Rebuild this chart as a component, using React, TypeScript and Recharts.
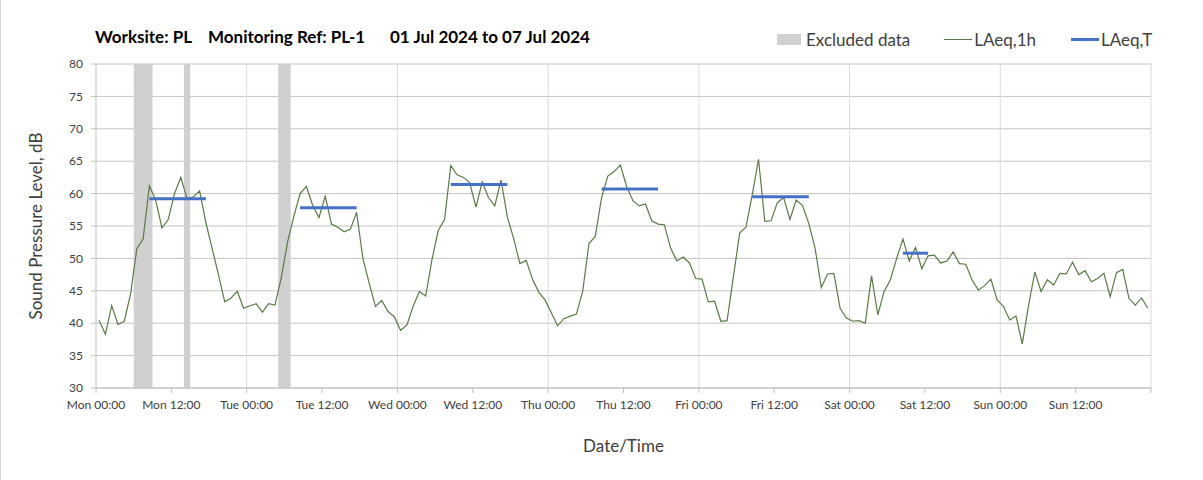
import { ComposedChart, Line, XAxis, YAxis, CartesianGrid, ReferenceArea, ReferenceLine } from "recharts";

// hourly LAeq,1h values, Mon 00:00 .. Sun 23:00 (168 hours)
const LAEQ_1H = [
  40.4, 38.3, 42.7, 39.8, 40.3, 44.5, 51.5, 53.0, 61.2, 59.0, 54.7, 56.0,
  60.0, 62.5, 59.2, 59.5, 60.4, 55.5, 51.5, 47.5, 43.3, 43.9, 44.9, 42.3,
  42.7, 43.0, 41.7, 43.0, 42.8, 47.0, 52.5, 56.5, 60.0, 61.1, 58.2, 56.3,
  59.6, 55.3, 54.8, 54.1, 54.5, 57.1, 50.0, 46.2, 42.6, 43.5, 41.8, 41.0,
  38.9, 39.7, 42.6, 44.9, 44.2, 49.8, 54.3, 56.0, 64.3, 62.9, 62.5, 61.7,
  57.9, 61.8, 59.4, 58.1, 62.1, 56.4, 53.1, 49.2, 49.7, 46.8, 44.8, 43.6,
  41.6, 39.6, 40.7, 41.1, 41.4, 44.9, 52.3, 53.4, 59.3, 62.7, 63.4, 64.4,
  61.1, 58.9, 58.1, 58.4, 55.8, 55.3, 55.2, 51.6, 49.6, 50.2, 49.3, 46.9,
  46.8, 43.3, 43.4, 40.3, 40.4, 47.2, 53.9, 54.8, 59.8, 65.3, 55.7, 55.8,
  58.6, 59.4, 56.0, 59.0, 58.2, 55.4, 51.6, 45.5, 47.6, 47.7, 42.3, 40.8,
  40.3, 40.4, 40.0, 47.3, 41.3, 44.9, 46.7, 50.0, 53.0, 49.6, 51.7, 48.4,
  50.4, 50.5, 49.3, 49.6, 51.0, 49.2, 49.1, 46.7, 45.1, 45.8, 46.8, 43.6,
  42.6, 40.5, 41.1, 36.8, 42.7, 47.9, 44.9, 46.7, 45.9, 47.7, 47.6, 49.4,
  47.5, 48.1, 46.4, 46.9, 47.7, 44.1, 47.8, 48.3, 43.8, 42.8, 43.9, 42.3,
];

// LAeq,T daytime periods (hours from Mon 00:00)
const PERIOD_START = [8.5, 32.5, 56.5, 80.5, 104.5, 128.5];
const PERIOD_END = [17.5, 41.5, 65.5, 89.5, 113.5, 132.5];
const LAEQ_T = [59.2, 57.8, 61.4, 60.7, 59.5, 50.8];

// excluded data windows (hours)
const EXCL_START = [6, 14, 29];
const EXCL_END = [9, 15, 31];

const X_TICKS = [0, 12, 24, 36, 48, 60, 72, 84, 96, 108, 120, 132, 144, 156, 168];
const X_LABELS = [
  "Mon 00:00", "Mon 12:00", "Tue 00:00", "Tue 12:00", "Wed 00:00", "Wed 12:00",
  "Thu 00:00", "Thu 12:00", "Fri 00:00", "Fri 12:00", "Sat 00:00", "Sat 12:00",
  "Sun 00:00", "Sun 12:00", "",
];
const DAY_LINES = [24, 48, 72, 96, 120, 144, 168];
const Y_TICKS = [30, 35, 40, 45, 50, 55, 60, 65, 70, 75, 80];

const hourly = LAEQ_1H.map((v, i) => ({ t: i + 0.5, v }));

const FONT = "Lato, 'Open Sans', sans-serif";
const TXT = "#404040";
const GREEN = "#5a7a45";
const BLUE = "#4472c4";

export default function App() {
  return (
    <div
      style={{
        position: "absolute", left: 0, top: 0, width: 1203, height: 480,
        background: "#fff", fontFamily: FONT, borderLeft: "1px solid #d9d9d9",
        boxSizing: "border-box",
      }}
    >
      <div style={{ position: "absolute", left: 94, top: 26, fontSize: 17, fontWeight: 700, color: "#000", whiteSpace: "pre" }}>
        {"Worksite: PL    Monitoring Ref: PL-1      01 Jul 2024 to 07 Jul 2024"}
      </div>

      {/* legend */}
      <div style={{ position: "absolute", left: 776, top: 29, fontSize: 17, color: TXT, display: "flex", alignItems: "center", whiteSpace: "nowrap" }}>
        <span style={{ width: 24, height: 11, background: "#d0d0d0", display: "inline-block", marginRight: 5 }} />
        <span>Excluded data</span>
        <span style={{ width: 28, height: 1, background: GREEN, display: "inline-block", marginLeft: 34, marginRight: 2 }} />
        <span>LAeq,1h</span>
        <span style={{ width: 28, height: 3, background: BLUE, display: "inline-block", marginLeft: 35, marginRight: 2 }} />
        <span>LAeq,T</span>
      </div>

      <ComposedChart width={1202} height={480} data={hourly} margin={{ top: 64, right: 52, bottom: 62, left: 0 }}>
        <CartesianGrid vertical={false} stroke="#c4c4c4" strokeWidth={1} />
        {DAY_LINES.map((d) => (
          <ReferenceLine key={d} x={d} stroke="#dadada" strokeWidth={1} />
        ))}
        {EXCL_START.map((s, i) => (
          <ReferenceArea key={s} x1={s} x2={EXCL_END[i]} y1={30} y2={80} fill="#d0d0d0" fillOpacity={1} stroke="none" ifOverflow="hidden" />
        ))}
        <XAxis
          dataKey="t"
          type="number"
          domain={[0, 168]}
          ticks={X_TICKS}
          interval={0}
          tickFormatter={(v: number) => X_LABELS[X_TICKS.indexOf(v)] ?? ""}
          tick={{ fontSize: 12, fill: TXT }}
          tickSize={5}
          tickMargin={7}
          height={30}
          stroke="#bfbfbf"
          allowDuplicatedCategory={false}
          label={{ value: "Date/Time", position: "bottom", offset: 22, fontSize: 17, fill: TXT }}
        />
        <YAxis
          type="number"
          domain={[30, 80]}
          ticks={Y_TICKS}
          interval={0}
          width={95}
          tick={{ fontSize: 12, fill: TXT }}
          tickSize={5}
          tickMargin={8}
          stroke="#bfbfbf"
          label={{ value: "Sound Pressure Level, dB", angle: -90, position: "insideLeft", offset: 35, fontSize: 17, fill: TXT, style: { textAnchor: "middle" } }}
        />
        <Line
          type="linear"
          dataKey="v"
          stroke={GREEN}
          strokeWidth={1.2}
          dot={false}
          activeDot={false}
          isAnimationActive={false}
        />
        {LAEQ_T.map((v, i) => (
          <Line
            key={i}
            data={[{ t: PERIOD_START[i], v }, { t: PERIOD_END[i], v }]}
            dataKey="v"
            type="linear"
            stroke={BLUE}
            strokeWidth={3}
            dot={false}
            activeDot={false}
            isAnimationActive={false}
          />
        ))}
      </ComposedChart>
    </div>
  );
}
